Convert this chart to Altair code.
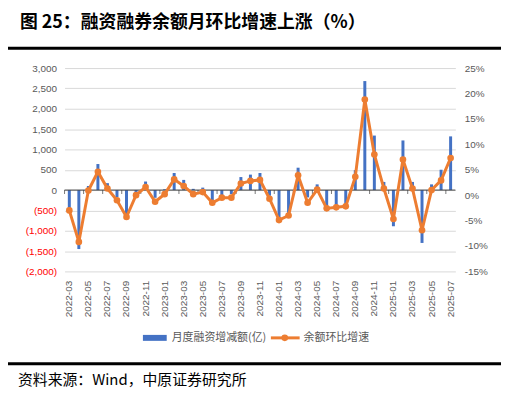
import altair as alt
import pandas as pd

months = [
    "2022-03", "2022-04", "2022-05", "2022-06", "2022-07", "2022-08", "2022-09", "2022-10",
    "2022-11", "2022-12", "2023-01", "2023-02", "2023-03", "2023-04", "2023-05", "2023-06",
    "2023-07", "2023-08", "2023-09", "2023-10", "2023-11", "2023-12", "2024-01", "2024-02",
    "2024-03", "2024-04", "2024-05", "2024-06", "2024-07", "2024-08", "2024-09", "2024-10",
    "2024-11", "2024-12", "2025-01", "2025-02", "2025-03", "2025-04", "2025-05", "2025-06",
    "2025-07",
]
# 月度融资增减额(亿)
amount = [
    -480, -1450, 100, 640, 170, -170, -630, -90,
    210, -190, 20, 420, 250, 30, 60, -260,
    -130, -100, 320, 380, 420, -140, -700, -600,
    550, -180, 140, -420, -450, -420, 490, 2680,
    1340, 200, -890, 1220, 200, -1300, 140, 500,
    1320,
]
# 余额环比增速(%)
rate = [
    -3.0, -9.2, 0.9, 4.6, 1.3, -1.0, -4.3, 0.0,
    1.6, -1.3, 0.2, 3.1, 1.8, 0.2, 0.6, -1.5,
    -0.5, -0.5, 2.3, 2.8, 3.0, -0.7, -4.9, -4.0,
    3.9, -1.5, 1.1, -2.6, -2.4, -2.2, 3.6, 18.8,
    8.0, 1.3, -4.7, 7.0, 1.3, -6.9, 1.0, 2.9,
    7.3,
]
left_ticks = [-2000, -1500, -1000, -500, 0, 500, 1000, 1500, 2000, 2500, 3000]
right_ticks = [-15, -10, -5, 0, 5, 10, 15, 20, 25]
x_label_months = months[::2]

title_text = "图 25：融资融券余额月环比增速上涨（%）"
source_text = "资料来源：Wind，中原证券研究所"
bar_name = "月度融资增减额(亿)"
line_name = "余额环比增速"

BLUE = "#4472C4"
ORANGE = "#ED7D31"
GRAY = "#595959"
CJK = "Noto Sans CJK SC"
LAT = "Liberation Sans"

df = pd.DataFrame({"month": months, "amount": amount, "rate": rate})
tick_df = pd.DataFrame({"month": x_label_months})
one = pd.DataFrame({"k": [0]})

x_scale = alt.Scale(paddingInner=0, paddingOuter=0)
x_axis = alt.Axis(
    values=x_label_months, labelAngle=270, ticks=False, domain=False,
    labelPadding=9, title=None, labelFontSize=10, labelColor=GRAY, labelFont=LAT,
)
x_enc = alt.X("month:N", sort=months, scale=x_scale, axis=x_axis)

left_scale = alt.Scale(domain=[-2000, 3000], nice=False, zero=False)
left_axis = alt.Axis(
    values=left_ticks, title=None, ticks=False, domain=False, grid=True,
    gridColor="#D9D9D9", gridWidth=1, labelPadding=8, labelFontSize=10,
    labelFont=LAT, labelOverlap=False,
    labelExpr="datum.value < 0 ? '(' + format(-datum.value, ',') + ')' : format(datum.value, ',')",
    labelColor=alt.condition("datum.value < 0", alt.value("#FF0000"), alt.value(GRAY)),
)

bars = alt.Chart(df).mark_bar(size=3, color=BLUE).encode(
    x=x_enc,
    y=alt.Y("amount:Q", scale=left_scale, axis=left_axis),
)

zero_rule = alt.Chart(one).mark_rule(color="#404040", strokeWidth=1).encode(
    y=alt.Y(datum=0, scale=left_scale, axis=left_axis)
)

ticks = alt.Chart(tick_df).mark_tick(
    orient="vertical", size=4, thickness=1, color="#404040", yOffset=2
).encode(
    x=alt.X("month:N", sort=months, bandPosition=0, scale=x_scale, axis=x_axis),
    y=alt.Y(datum=0, scale=left_scale, axis=left_axis),
)

left = alt.layer(bars, zero_rule, ticks)

y_right = alt.Y(
    "rate:Q",
    scale=alt.Scale(domain=[-15, 25], nice=False, zero=False),
    axis=alt.Axis(
        orient="right", values=right_ticks, title=None, ticks=False, domain=False,
        grid=False, labelPadding=9, labelFontSize=10, labelColor=GRAY, labelFont=LAT,
        labelExpr="datum.value + '%'", labelOverlap=False,
    ),
)
line = alt.Chart(df).mark_line(color=ORANGE, strokeWidth=3).encode(
    x=x_enc, y=y_right
)
pts = alt.Chart(df).mark_circle(color=ORANGE, size=45, opacity=1).encode(
    x=x_enc, y=y_right
)
right = alt.layer(line, pts)

# decorations (title, rules, legend, source)
title = alt.Chart(one).mark_text(
    text=title_text, font=CJK, fontSize=18, fontWeight="bold", align="left",
    baseline="middle", color="#000000",
).encode(x=alt.value(-45), y=alt.value(-45))
top_rule = alt.Chart(one).mark_rule(color="#000000", strokeWidth=3).encode(
    x=alt.value(-57), x2=alt.value(440), y=alt.value(-20)
)
bottom_rule = alt.Chart(one).mark_rule(color="#000000", strokeWidth=3).encode(
    x=alt.value(-57), x2=alt.value(440), y=alt.value(298)
)
source = alt.Chart(one).mark_text(
    text=source_text, font=CJK, fontSize=15, align="left", baseline="middle", color="#000000",
).encode(x=alt.value(-47), y=alt.value(315))

leg_rect = alt.Chart(one).mark_rect(color=BLUE).encode(
    x=alt.value(79), x2=alt.value(103), y=alt.value(269), y2=alt.value(275)
)
leg_text1 = alt.Chart(one).mark_text(
    text=bar_name, font=CJK, fontSize=11, align="left", baseline="middle", color=GRAY
).encode(x=alt.value(108), y=alt.value(272))
leg_line = alt.Chart(one).mark_rule(color=ORANGE, strokeWidth=3).encode(
    x=alt.value(208), x2=alt.value(237), y=alt.value(272)
)
leg_dot = alt.Chart(one).mark_circle(color=ORANGE, size=45, opacity=1).encode(
    x=alt.value(222), y=alt.value(272)
)
leg_text2 = alt.Chart(one).mark_text(
    text=line_name, font=CJK, fontSize=11, align="left", baseline="middle", color=GRAY
).encode(x=alt.value(241), y=alt.value(272))

chart = alt.layer(
    left, right, title, top_rule, bottom_rule, source,
    leg_rect, leg_text1, leg_line, leg_dot, leg_text2,
).resolve_scale(y="independent").properties(
    width=394, height=205,
    padding={"left": 57, "top": 59, "right": 47, "bottom": 117},
    autosize="none",
    background="white",
).configure_view(stroke=None)

chart.save("out.html", embed_options={"renderer": "svg", "actions": False})
